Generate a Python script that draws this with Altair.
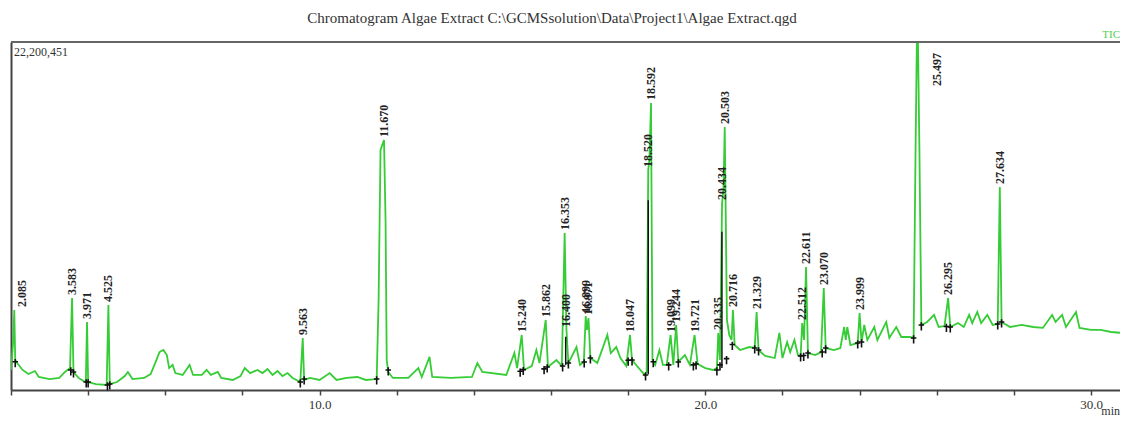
import altair as alt
import pandas as pd

# ---- chromatogram trace: retention time (min) / intensity (millions of counts)
trace_time = [
    2.00, 2.06, 2.085, 2.11, 2.18, 2.30, 2.45, 2.62, 2.72, 3.00, 3.25, 3.40, 3.53, 3.583, 3.62,
    3.75, 3.88, 3.94, 3.971, 4.00, 4.20, 4.48, 4.525, 4.56, 4.75, 4.95, 5.03, 5.15, 5.45, 5.62,
    5.75, 5.85, 5.95, 6.04, 6.10, 6.19, 6.26, 6.45, 6.63, 6.72, 6.95, 7.07, 7.18, 7.36, 7.45,
    7.75, 7.95, 8.06, 8.20, 8.39, 8.52, 8.65, 8.78, 8.91, 9.04, 9.17, 9.30, 9.50, 9.563, 9.60,
    9.75, 10.00, 10.26, 10.44, 10.70, 10.98, 11.20, 11.48, 11.53, 11.58, 11.67, 11.71, 11.74, 11.78, 11.90,
    12.30, 12.56, 12.65, 12.85, 12.92, 13.40, 13.95, 14.09, 14.22, 14.84, 15.05, 15.12, 15.240, 15.30, 15.50,
    15.62, 15.70, 15.862, 15.92, 16.14, 16.28, 16.353, 16.400, 16.45, 16.66, 16.75, 16.85, 16.899, 16.93, 16.971,
    17.02, 17.20, 17.46, 17.55, 17.69, 17.80, 17.95, 18.047, 18.10, 18.25, 18.43, 18.48, 18.520, 18.55, 18.592,
    18.63, 18.70, 18.81, 18.90, 19.00, 19.099, 19.17, 19.244, 19.30, 19.47, 19.60, 19.721, 19.80, 20.00, 20.20,
    20.30, 20.335, 20.38, 20.434, 20.47, 20.503, 20.56, 20.62, 20.68, 20.716, 20.76, 20.90, 21.14, 21.28, 21.329,
    21.38, 21.55, 21.80, 21.92, 22.00, 22.12, 22.20, 22.31, 22.40, 22.47, 22.512, 22.56, 22.611, 22.66, 22.85,
    23.00, 23.070, 23.12, 23.33, 23.50, 23.60, 23.64, 23.68, 23.76, 23.95, 23.999, 24.05, 24.12, 24.20, 24.38,
    24.46, 24.69, 24.77, 24.95, 25.08, 25.30, 25.40, 25.45, 25.497, 25.55, 25.60, 25.75, 25.93, 26.05, 26.20,
    26.295, 26.35, 26.55, 26.70, 26.84, 26.92, 27.05, 27.15, 27.31, 27.45, 27.58, 27.634, 27.68, 27.90, 28.20,
    28.50, 28.75, 28.99, 29.08, 29.25, 29.35, 29.61, 29.70, 30.00, 30.25, 30.52, 30.80,
]
trace_int = [
    1.28, 3.19, 5.10, 1.91, 1.66, 1.28, 1.02, 1.21, 0.83, 0.70, 0.77, 1.15, 1.40, 5.87, 1.15,
    0.77, 0.57, 0.51, 4.34, 0.51, 0.38, 0.32, 5.42, 0.38, 0.51, 0.89, 1.15, 0.70, 0.77, 1.02,
    1.79, 2.42, 2.55, 2.23, 1.40, 1.60, 1.08, 0.96, 1.60, 0.96, 0.96, 1.28, 0.96, 1.15, 0.77,
    0.64, 0.89, 1.40, 1.08, 1.28, 1.08, 1.34, 0.96, 1.21, 0.89, 1.08, 0.77, 0.51, 3.32, 0.64,
    0.77, 0.64, 1.08, 0.64, 0.77, 0.83, 0.64, 0.70, 5.74, 15.31, 15.95, 10.85, 1.91, 1.15, 0.77,
    0.77, 1.40, 0.83, 2.11, 0.83, 0.77, 0.83, 1.72, 1.15, 0.96, 2.36, 1.40, 3.51, 1.28, 1.53,
    2.55, 1.72, 4.47, 1.47, 1.91, 1.53, 10.02, 3.83, 1.72, 2.74, 1.60, 1.79, 4.72, 3.83, 4.59,
    2.04, 1.72, 3.51, 2.36, 2.74, 2.04, 1.53, 3.51, 1.91, 1.47, 0.96, 1.15, 14.04, 14.67, 18.31,
    1.91, 1.60, 2.55, 1.60, 1.60, 3.51, 1.60, 4.15, 1.79, 2.23, 1.60, 3.51, 1.66, 1.40, 1.28,
    1.40, 3.64, 1.91, 11.93, 12.76, 16.78, 4.47, 3.51, 3.19, 5.10, 2.87, 2.55, 2.74, 2.68, 4.98,
    2.55, 2.17, 2.04, 3.64, 2.04, 3.06, 2.42, 3.19, 2.23, 2.17, 4.27, 3.19, 7.85, 2.36, 2.23,
    2.42, 6.51, 2.68, 2.55, 2.68, 4.02, 3.19, 4.02, 2.87, 3.00, 4.91, 3.06, 4.15, 3.19, 4.02,
    3.19, 4.34, 3.32, 4.02, 3.38, 3.38, 3.32, 15.31, 25.00, 15.31, 4.15, 4.34, 4.79, 4.02, 4.08,
    5.87, 4.02, 4.27, 4.02, 4.79, 4.27, 4.98, 4.27, 4.79, 4.15, 4.21, 12.95, 4.34, 4.02, 4.15,
    4.02, 3.96, 4.79, 4.34, 4.79, 4.02, 4.98, 3.96, 3.83, 3.83, 3.70, 3.64,
]

# ---- labelled peaks
peak_times = [2.085, 3.583, 3.971, 4.525, 9.563, 11.670, 15.240, 15.862, 16.353, 16.400,
              16.899, 16.971, 18.047, 18.520, 18.592, 19.099, 19.244, 19.721, 20.335, 20.434,
              20.503, 20.716, 21.329, 22.512, 22.611, 23.070, 23.999, 25.497, 26.295, 27.634]
peak_heights = [5.10, 5.87, 4.34, 5.42, 3.32, 15.95, 3.51, 4.47, 10.02, 3.83,
                4.72, 4.59, 3.51, 14.04, 18.31, 3.51, 4.15, 3.51, 3.64, 11.93,
                16.78, 5.10, 4.98, 4.27, 7.85, 6.51, 4.91, 25.00, 5.87, 12.95]
peak_labels = ["2.085", "3.583", "3.971", "4.525", "9.563", "11.670", "15.240", "15.862", "16.353", "16.400",
               "16.899", "16.971", "18.047", "18.520", "18.592", "19.099", "19.244", "19.721", "20.335", "20.434",
               "20.503", "20.716", "21.329", "22.512", "22.611", "23.070", "23.999", "25.497", "26.295", "27.634"]

# ---- integration markers (peak start / end)
marker_times = [2.11, 3.55, 3.62, 3.95, 4.00, 4.50, 4.56, 9.50, 9.60, 11.48, 11.78, 15.20, 15.28,
                15.82, 15.90, 16.30, 16.45, 16.86, 17.02, 18.00, 18.10, 18.45, 18.65, 19.05, 19.30,
                19.69, 19.76, 20.30, 20.38, 20.55, 20.70, 21.28, 21.38, 22.47, 22.55, 22.66, 23.03,
                23.12, 23.95, 24.05, 25.40, 25.60, 26.25, 26.35, 27.58, 27.68]
marker_vals = [1.80, 1.28, 1.15, 0.51, 0.51, 0.32, 0.38, 0.51, 0.70, 0.70, 1.28, 1.20, 1.30,
               1.35, 1.47, 1.53, 1.72, 1.79, 2.04, 1.90, 1.91, 0.96, 1.80, 1.60, 1.79,
               1.60, 1.66, 1.28, 1.60, 2.00, 2.90, 2.68, 2.55, 2.17, 2.20, 2.36, 2.42,
               2.68, 3.00, 3.06, 3.32, 4.15, 4.05, 4.02, 4.21, 4.34]

# ---- dark overlaid segments on co-eluting peaks
dark_times = [16.38, 18.52, 20.43]
dark_low = [1.60, 1.00, 1.40]
dark_high = [3.40, 12.10, 10.10]

tick_values = list(range(2, 31))
title_text = "Chromatogram Algae Extract C:\\GCMSsolution\\Data\\Project1\\Algae Extract.qgd"
max_text = "22,200,451"
YMAX = 22.2

trace = pd.DataFrame({"t": trace_time, "v": trace_int})
peaks = pd.DataFrame({"t": peak_times, "v": peak_heights, "lab": peak_labels})
markers = pd.DataFrame({"t": marker_times, "v": marker_vals})
dark = pd.DataFrame({"t": dark_times, "lo": dark_low, "hi": dark_high})

SERIF = "Liberation Serif"
GREEN = "#36cc36"

xscale = alt.Scale(domain=[2.0, 30.75], nice=False, zero=False)
yscale = alt.Scale(domain=[0, YMAX], nice=False, zero=True)

xaxis = alt.Axis(values=tick_values,
                 labelExpr="datum.value % 10 == 0 ? format(datum.value, '.1f') : ''",
                 tickSize=5, tickWidth=1.5, tickColor="#444",
                 domainColor="#444", domainWidth=2,
                 labelFont=SERIF, labelFontSize=13, labelColor="#333",
                 labelPadding=3, grid=False, title=None, labelFlush=False)
yaxis = alt.Axis(labels=False, ticks=False, grid=False, title=None,
                 domainColor="#444", domainWidth=2)

line = alt.Chart(trace).mark_line(color=GREEN, strokeWidth=1.8, clip=True).encode(
    x=alt.X("t:Q", scale=xscale, axis=xaxis),
    y=alt.Y("v:Q", scale=yscale, axis=yaxis),
    order="t:Q",
)

dark_rules = alt.Chart(dark).mark_rule(color="#111", strokeWidth=1.5).encode(
    x=alt.X("t:Q", scale=xscale), y=alt.Y("lo:Q", scale=yscale), y2="hi:Q"
)

mk = alt.Chart(markers).mark_point(
    shape="M-1,0L1,0M0,-1L0,2", size=30, filled=False, color="#111", strokeWidth=1.6, opacity=1
).encode(x=alt.X("t:Q", scale=xscale), y=alt.Y("v:Q", scale=yscale))

labels = alt.Chart(peaks).transform_calculate(
    lx="datum.v > 19 ? datum.t + 0.5 : (datum.t < 2.2 ? datum.t + 0.2 : datum.t)",
    ly="min(datum.v, 19.2)",
).mark_text(
    angle=270, align="left", baseline="middle", dx=3, font=SERIF, fontSize=12,
    fontWeight="bold", color="#222", clip=True
).encode(x=alt.X("lx:Q", scale=xscale), y=alt.Y("ly:Q", scale=yscale), text="lab:N")

top_rule = alt.Chart(pd.DataFrame({"v": [YMAX]})).mark_rule(color="#666", strokeWidth=2).encode(
    y=alt.Y("v:Q", scale=yscale)
)

title = alt.Chart(pd.DataFrame({"s": [title_text]})).mark_text(
    font=SERIF, fontSize=15, color="#333", align="center", baseline="middle"
).encode(text="s:N", x=alt.value(541), y=alt.value(-24))

maxlab = alt.Chart(pd.DataFrame({"s": [max_text]})).mark_text(
    font=SERIF, fontSize=12, color="#333", align="left", baseline="middle"
).encode(text="s:N", x=alt.value(3), y=alt.value(10))

tic = alt.Chart(pd.DataFrame({"s": ["TIC"]})).mark_text(
    font=SERIF, fontSize=11, color="#4cd04c", align="right", baseline="middle"
).encode(text="s:N", x=alt.value(1109), y=alt.value(-7))

minlab = alt.Chart(pd.DataFrame({"s": ["min"]})).mark_text(
    font=SERIF, fontSize=12, color="#333", align="right", baseline="top"
).encode(text="s:N", x=alt.value(1109), y=alt.value(364))

chart = alt.layer(line, dark_rules, mk, labels, top_rule, title, maxlab, tic, minlab).properties(
    width=1109, height=348,
    padding={"left": 3, "top": 34, "right": 0, "bottom": 33},
    autosize=alt.AutoSizeParams(type="none"),
).configure_view(stroke=None)

chart.save("out.html", embed_options={"renderer": "svg", "actions": False})
